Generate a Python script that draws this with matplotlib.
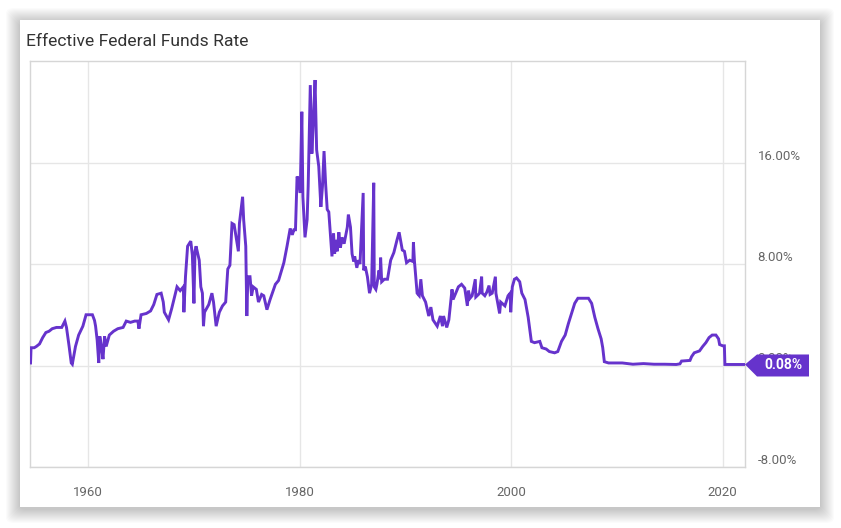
import matplotlib
matplotlib.use("Agg")
import matplotlib.pyplot as plt
from matplotlib.patches import FancyBboxPatch, Polygon

# effective fed funds rate (decimal year, percent)
years = [
    1954.55, 1954.6, 1954.9, 1955.1, 1955.4, 1955.7, 1956.0, 1956.3, 1956.6, 1957.0,
    1957.5, 1957.8, 1957.95, 1958.2, 1958.4, 1958.5, 1958.8, 1959.1, 1959.5, 1959.8,
    1960.0, 1960.4, 1960.6, 1960.7, 1960.85, 1961.0, 1961.1, 1961.25, 1961.4, 1961.55,
    1961.7, 1962.0, 1962.4, 1962.8, 1963.3, 1963.6, 1964.0, 1964.4, 1964.7, 1964.8,
    1965.0, 1965.5, 1965.9, 1966.2, 1966.5, 1966.9, 1967.1, 1967.2, 1967.6, 1967.9,
    1968.4, 1968.7, 1969.0, 1969.05, 1969.2, 1969.4, 1969.7, 1969.85, 1970.0, 1970.1,
    1970.2, 1970.5, 1970.65, 1970.8, 1970.9, 1971.0, 1971.4, 1971.7, 1971.85, 1972.1,
    1972.4, 1972.7, 1973.0, 1973.2, 1973.4, 1973.6, 1973.8, 1974.2, 1974.3, 1974.6,
    1974.7, 1974.9, 1975.0, 1975.1, 1975.3, 1975.45, 1975.6, 1975.9, 1976.1, 1976.4,
    1976.6, 1976.9, 1977.2, 1977.7, 1978.0, 1978.5, 1978.8, 1979.1, 1979.3, 1979.45,
    1979.6, 1979.75, 1979.9, 1980.05, 1980.2, 1980.3, 1980.5, 1980.7, 1980.8, 1981.0,
    1981.15, 1981.3, 1981.45, 1981.6, 1981.8, 1982.0, 1982.15, 1982.3, 1982.45, 1982.6,
    1982.75, 1982.9, 1983.05, 1983.2, 1983.3, 1983.4, 1983.55, 1983.7, 1983.85, 1984.0,
    1984.2, 1984.5, 1984.6, 1984.8, 1984.95, 1985.1, 1985.2, 1985.4, 1985.55, 1985.7,
    1986.0, 1986.05, 1986.2, 1986.4, 1986.6, 1986.8, 1987.0, 1987.05, 1987.2, 1987.3,
    1987.5, 1987.6, 1987.65, 1987.75, 1988.0, 1988.3, 1988.6, 1988.9, 1989.2, 1989.4,
    1989.7, 1989.9, 1990.1, 1990.4, 1990.7, 1990.75, 1990.85, 1991.1, 1991.3, 1991.45,
    1991.6, 1991.9, 1992.2, 1992.4, 1992.6, 1993.0, 1993.3, 1993.5, 1993.6, 1993.9,
    1994.1, 1994.4, 1994.5, 1995.0, 1995.3, 1995.6, 1995.85, 1995.95, 1996.1, 1996.3,
    1996.6, 1996.65, 1996.9, 1997.0, 1997.2, 1997.25, 1997.5, 1997.7, 1997.9, 1998.0,
    1998.2, 1998.5, 1998.55, 1998.9, 1999.0, 1999.4, 1999.7, 1999.9, 1999.95, 2000.1,
    2000.3, 2000.5, 2000.8, 2001.0, 2001.3, 2001.6, 2001.9, 2002.2, 2002.7, 2002.9,
    2003.3, 2003.6, 2004.1, 2004.4, 2004.75, 2005.1, 2005.4, 2005.7, 2006.0, 2006.3,
    2007.3, 2007.6, 2007.9, 2008.2, 2008.5, 2008.65, 2008.8, 2009.2, 2010.5, 2011.5,
    2012.5, 2013.5, 2014.5, 2015.6, 2015.95, 2016.1, 2016.9, 2017.05, 2017.3, 2017.8,
    2018.1, 2018.4, 2018.7, 2019.0, 2019.35, 2019.6, 2019.7, 2020.0, 2020.15, 2020.2,
    2021.0, 2022.1,
]
rates = [
    0.2, 1.4, 1.4, 1.5, 1.7, 2.2, 2.6, 2.7, 2.9, 3.0,
    3.0, 3.5, 3.0, 1.5, 0.2, 0.1, 1.5, 2.4, 3.1, 4.0,
    4.0, 4.0, 3.55, 3.1, 2.0, 0.2, 2.3, 1.5, 0.5, 2.3,
    1.5, 2.4, 2.7, 2.9, 3.0, 3.5, 3.4, 3.5, 3.5, 2.9,
    4.0, 4.1, 4.3, 4.8, 5.6, 5.7, 5.0, 4.2, 3.6, 4.5,
    6.2, 5.9, 6.2, 4.2, 7.0, 9.4, 9.8, 8.7, 4.9, 9.0,
    9.4, 8.3, 6.2, 5.7, 3.1, 4.2, 4.8, 5.7, 5.0, 3.1,
    4.2, 4.7, 5.0, 7.6, 7.9, 11.2, 11.1, 9.0, 11.2, 13.3,
    11.5, 9.4, 3.9, 7.0, 7.0, 5.5, 6.2, 6.0, 5.0, 5.6,
    5.5, 4.4, 5.2, 6.4, 6.7, 8.1, 9.4, 10.8, 10.3, 10.7,
    10.7, 14.9, 14.6, 13.6, 20.0, 13.3, 10.1, 11.5, 14.1, 22.1,
    16.7, 19.4, 22.5, 17.0, 15.7, 12.5, 14.1, 16.9, 14.3, 12.3,
    12.1, 10.4, 8.6, 10.4, 8.8, 9.9, 9.0, 10.5, 9.3, 10.1,
    9.6, 10.9, 11.9, 10.9, 8.8, 8.2, 8.6, 7.7, 8.3, 8.0,
    13.6, 7.5, 7.8, 7.0, 5.7, 6.4, 14.4, 6.2, 6.0, 6.4,
    7.5, 6.8, 8.5, 6.6, 6.8, 6.8, 8.3, 8.9, 9.9, 10.5,
    9.1, 9.0, 8.1, 8.3, 8.2, 9.7, 8.2, 5.7, 5.5, 6.8,
    5.5, 5.0, 3.9, 4.6, 3.6, 3.1, 3.9, 3.1, 3.9, 3.0,
    3.6, 6.0, 5.2, 6.2, 6.4, 6.1, 4.7, 5.9, 5.3, 5.5,
    6.8, 5.4, 5.6, 5.7, 7.0, 5.7, 5.5, 5.8, 6.3, 5.6,
    5.7, 7.0, 5.7, 4.1, 5.0, 4.7, 5.5, 5.7, 4.2, 6.2,
    6.8, 6.9, 6.6, 5.7, 5.2, 3.8, 1.9, 1.8, 1.9, 1.4,
    1.3, 1.1, 1.0, 1.1, 1.9, 2.4, 3.3, 4.1, 4.9, 5.3,
    5.3, 4.9, 3.8, 2.9, 2.1, 1.4, 0.3, 0.2, 0.2, 0.1,
    0.15, 0.1, 0.1, 0.08, 0.13, 0.35, 0.4, 0.7, 1.0, 1.15,
    1.5, 1.8, 2.2, 2.4, 2.4, 2.1, 1.65, 1.55, 1.55, 0.08,
    0.08, 0.08,
]
x_ticks = [1960, 1980, 2000, 2020]
y_ticks = [-8, 0, 8, 16]
title = "Effective Federal Funds Rate"

purple = "#6633cc"
grid_col = "#e6e6e6"
text_col = "#666666"

W, H = 841, 528
fig = plt.figure(figsize=(W / 100, H / 100), dpi=100)
fig.patch.set_facecolor("white")

# card with soft shadow
cx0, cy0, cx1, cy1 = 20, 20, 820, 507  # pixels from top-left
for i in range(14, 0, -1):
    sh = FancyBboxPatch(((cx0 - i) / W, (H - cy1 - i - 2) / H),
                        (cx1 - cx0 + 2 * i) / W, (cy1 - cy0 + 2 * i) / H,
                        boxstyle="round,pad=0,rounding_size=0.01",
                        transform=fig.transFigure, facecolor="black",
                        edgecolor="none", alpha=0.016, zorder=-3)
    fig.patches.append(sh)
card = FancyBboxPatch((cx0 / W, (H - cy1) / H), (cx1 - cx0) / W, (cy1 - cy0) / H,
                      boxstyle="square,pad=0", transform=fig.transFigure,
                      facecolor="white", edgecolor="none", zorder=-2)
fig.patches.append(card)

fig.text(26 / W, 1 - 41 / H, title, fontsize=12.6, family="Roboto",
         color="#333333", ha="left", va="center")

ax = fig.add_axes([30 / W, 1 - 467 / H, 715 / W, 406 / H])
ax.set_facecolor("none")
ax.plot(years, rates, color=purple, lw=2.1, zorder=3, solid_joinstyle="miter")

ax.set_xlim(1954.5, 2022.1)
ax.set_ylim(-8, 24)
ax.set_xticks(x_ticks)
ax.set_xticklabels([str(y) for y in x_ticks])
ax.set_yticks(y_ticks)
ax.set_yticklabels([f"{v:.2f}%" for v in y_ticks])
ax.yaxis.tick_right()
ax.grid(True, color=grid_col, lw=1)
ax.set_axisbelow(True)
for s in ax.spines.values():
    s.set_color("#d6d6d6")
    s.set_linewidth(1)
ax.tick_params(length=0, colors=text_col, labelsize=9.5)
ax.tick_params(axis="x", pad=14)
ax.tick_params(axis="y", pad=9)
for lbl in ax.get_xticklabels() + ax.get_yticklabels():
    lbl.set_family("Roboto")
for lbl in ax.get_yticklabels():
    lbl.set_va("bottom")

# last value tag
last = rates[-1]
fig.canvas.draw()
ax_pt = ax.get_yaxis_transform().transform((1.0, last))
px, py = ax_pt
verts = [(px, py), (px + 12, py + 10), (px + 64, py + 10),
         (px + 64, py - 12), (px + 12, py - 12)]
tag = Polygon(verts, closed=True, facecolor=purple, edgecolor="none",
              transform=None, zorder=10)
fig.patches.append(tag)
fig.text((px + 38) / W, (py - 1) / H, f"{last:.2f}%", color="white", fontsize=10,
         fontweight="bold", family="Roboto", ha="center", va="center", zorder=11)

fig.savefig("out.png", dpi=100)
